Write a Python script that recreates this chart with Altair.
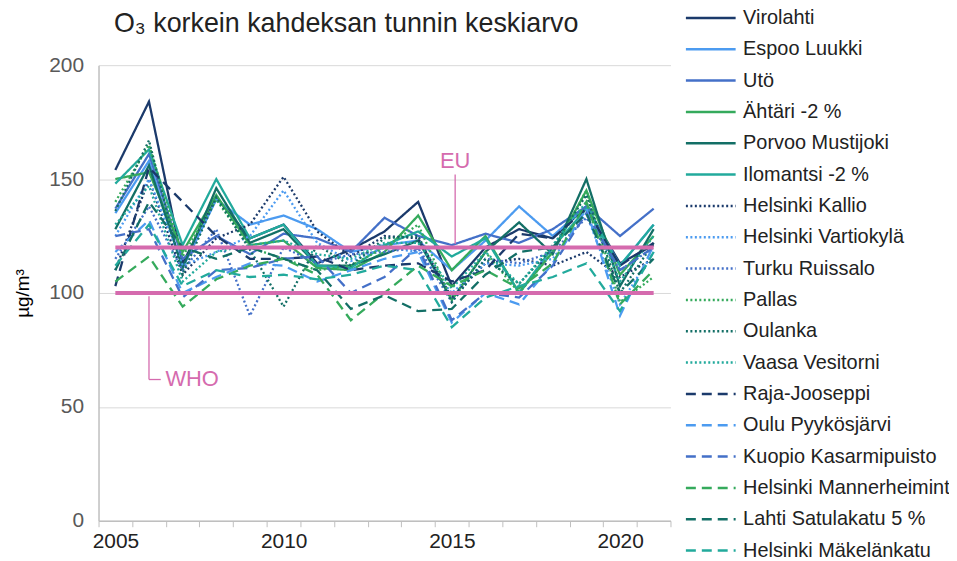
import altair as alt
import pandas as pd

years = list(range(2005, 2022))

series_names = [
    "Virolahti", "Espoo Luukki", "Utö", "Ähtäri -2 %", "Porvoo Mustijoki", "Ilomantsi -2 %",
    "Helsinki Kallio", "Helsinki Vartiokylä", "Turku Ruissalo", "Pallas", "Oulanka", "Vaasa Vesitorni",
    "Raja-Jooseppi", "Oulu Pyykösjärvi", "Kuopio Kasarmipuisto", "Helsinki Mannerheimint",
    "Lahti Satulakatu 5 %", "Helsinki Mäkelänkatu",
]

virolahti = [154, 184, 113, 142, 124, 130, 113, 119, 127, 140, 103, 120, 128, 124, 138, 113, 121]
espoo_luukki = [135, 158, 111, 141, 130, 134, 128, 118, 121, 123, 110, 123, 138, 125, 138, 112, 130]
uto = [137, 161, 115, 125, 117, 126, 124, 118, 133, 125, 121, 126, 122, 128, 138, 125, 137]
ahtari = [150, 153, 118, 143, 121, 123, 111, 110, 118, 134, 110, 125, 100, 118, 145, 108, 125]
porvoo = [128, 156, 111, 146, 122, 128, 112, 112, 117, 123, 97, 118, 131, 117, 150, 103, 128]
ilomantsi = [148, 163, 121, 150, 124, 130, 112, 111, 121, 127, 116, 124, 100, 120, 137, 112, 130]
kallio = [110, 150, 108, 124, 130, 151, 127, 116, 125, 124, 98, 113, 115, 112, 118, 107, 115]
vartiokyla = [125, 150, 112, 118, 125, 145, 122, 114, 120, 118, 100, 113, 112, 115, 135, 95, 118]
ruissalo = [115, 138, 110, 128, 90, 120, 113, 117, 118, 120, 96, 115, 113, 118, 133, 110, 120]
pallas = [140, 165, 116, 141, 120, 115, 110, 112, 120, 130, 97, 118, 100, 118, 145, 96, 107]
oulanka = [136, 167, 108, 142, 119, 94, 121, 112, 124, 125, 96, 115, 104, 120, 143, 100, 122]
vaasa = [130, 147, 105, 118, 121, 123, 117, 115, 122, 122, 102, 118, 104, 121, 140, 105, 125]
raja = [103, 155, 140, 125, 115, 115, 116, 110, 112, 113, 105, 110, 126, 124, 137, 112, 122]
oulu = [118, 132, 100, 107, 113, 112, 105, 110, 115, 118, 87, 100, 95, 113, 137, 90, 121]
kuopio = [125, 128, 98, 110, 111, 115, 116, 100, 107, 120, 88, 100, 98, 112, 135, 110, 120]
mannerheim = [105, 116, 94, 106, 112, 115, 108, 88, 100, 112, 103, 110, 102, 113, 140, 95, 110]
lahti = [110, 140, 120, 115, 120, 115, 110, 93, 99, 92, 93, 108, 118, 120, 135, 100, 115]
makelankatu = [112, 130, 103, 110, 107, 108, 106, 108, 112, 110, 85, 98, 103, 107, 113, 92, 118]

all_values = [virolahti, espoo_luukki, uto, ahtari, porvoo, ilomantsi, kallio, vartiokyla, ruissalo,
              pallas, oulanka, vaasa, raja, oulu, kuopio, mannerheim, lahti, makelankatu]

colors = ["#1B3A6B", "#4C9BF0", "#4470C8", "#35AA5C", "#136F66", "#22AA9C"] * 3
solid, dotted, dashed = [1, 0], [2, 2.5], [10, 6]
dashes = [solid] * 6 + [dotted] * 6 + [dashed] * 6

rows = []
for name, vals in zip(series_names, all_values):
    for y, v in zip(years, vals):
        rows.append({"Asema": name, "Vuosi": y, "Arvo": v})
df = pd.DataFrame(rows)

limit_names = ["EU", "WHO"]
limit_values = [120, 100]
ref_rows = []
for n, v in zip(limit_names, limit_values):
    ref_rows.append({"raja": n, "Vuosi": years[0], "Arvo": v})
    ref_rows.append({"raja": n, "Vuosi": years[-1], "Arvo": v})
ref_df = pd.DataFrame(ref_rows)

title_text = "O₃ korkein kahdeksan tunnin keskiarvo"
PINK = "#D56BAE"
FONT = "Liberation Sans"

tick_vals = [y - 0.5 for y in years] + [years[-1] + 0.5]

x = alt.X("Vuosi:Q", scale=alt.Scale(domain=[2004.5, 2021.5], nice=False, zero=False),
          axis=alt.Axis(values=tick_vals, tickCount=100, grid=False, title=None,
                        labelExpr="(datum.value + 0.5) % 5 == 0 ? format(datum.value + 0.5, 'd') : ''",
                        labelOffset=17, labelFontSize=21, labelColor="#222222",
                        labelFont=FONT, tickColor="#BFBFBF", domainColor="#BFBFBF",
                        tickSize=6, labelPadding=4, labelFlush=False, labelOverlap=False))
y = alt.Y("Arvo:Q", scale=alt.Scale(domain=[0, 200], nice=False),
          axis=alt.Axis(values=[0, 50, 100, 150, 200], title="µg/m³", titleFontSize=19,
                        titleFont=FONT, titleFontWeight="normal", titleColor="#000000",
                        titlePadding=16, labelFontSize=21, labelColor="#595959",
                        labelFont=FONT, gridColor="#D9D9D9", domainColor="#BFBFBF",
                        ticks=False, labelPadding=15))

lines = alt.Chart(df).mark_line(strokeWidth=2.3).encode(
    x=x, y=y,
    color=alt.Color("Asema:N", sort=series_names,
                    scale=alt.Scale(domain=series_names, range=colors),
                    legend=alt.Legend(title=None, orient="none", legendX=589, legendY=-63,
                                      symbolType="stroke", symbolSize=2500, symbolStrokeWidth=2.5,
                                      labelFontSize=20, labelFont=FONT, clipHeight=31,
                                      labelColor="#222222", labelLimit=400, rowPadding=0.5,
                                      labelOffset=6, padding=0)),
    strokeDash=alt.StrokeDash("Asema:N", sort=series_names,
                              scale=alt.Scale(domain=series_names, range=dashes)),
    detail="Asema:N",
)

ref_lines = alt.Chart(ref_df).mark_line(strokeWidth=4, color=PINK).encode(
    x="Vuosi:Q", y="Arvo:Q", detail="raja:N")

ann_df = pd.DataFrame({
    "x": [2015.1, 2006.0],
    "y": [121.5, 98.5],
    "y2": [152, 62],
    "label": ["EU", "WHO"],
})
vconn = alt.Chart(ann_df).mark_rule(color=PINK, strokeWidth=1.3).encode(
    x="x:Q", y="y:Q", y2="y2:Q")
hconn = alt.Chart(pd.DataFrame({"x": [2006.0], "x2": [2006.35], "y": [62]})).mark_rule(
    color=PINK, strokeWidth=1.3).encode(x="x:Q", x2="x2:Q", y="y:Q")

eu_text = alt.Chart(pd.DataFrame({"x": [2015.1], "y": [158], "t": ["EU"]})).mark_text(
    color=PINK, fontSize=22, font=FONT, align="center", baseline="middle").encode(
    x="x:Q", y="y:Q", text="t:N")
who_text = alt.Chart(pd.DataFrame({"x": [2006.4], "y": [62], "t": ["WHO"]})).mark_text(
    color=PINK, fontSize=22, font=FONT, align="left", baseline="middle", dx=3).encode(
    x="x:Q", y="y:Q", text="t:N")

title_mark = alt.Chart(pd.DataFrame({"t": [title_text]})).mark_text(
    fontSize=27, font=FONT, color="#222222", align="center", baseline="middle").encode(
    x=alt.value(249), y=alt.value(-41), text="t:N")

chart = alt.layer(lines, ref_lines, vconn, hconn, eu_text, who_text, title_mark).properties(
    width=575, height=458,
    autosize=alt.AutoSizeParams(type="none"),
    padding={"left": 91, "top": 56, "right": 280, "bottom": 40},
).configure_view(stroke=None).configure_axis(domainWidth=1.5)

chart.save("out.html", embed_options={"renderer": "svg", "actions": False})
